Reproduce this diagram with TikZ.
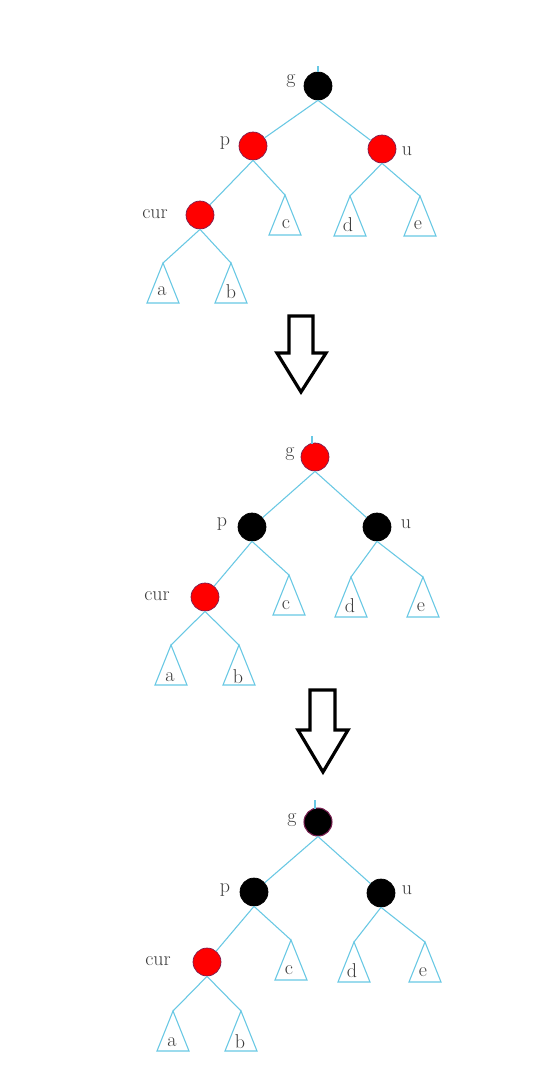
\documentclass[tikz,border=0pt]{standalone}
\definecolor{edgeblue}{RGB}{104,200,228}
\definecolor{nodered}{RGB}{255,0,0}
\definecolor{rimred}{RGB}{120,30,80}
\definecolor{labelgray}{RGB}{60,60,60}
\tikzset{
  rbnode/.style={circle, minimum size=21pt, inner sep=0pt, line width=0.5pt},
  rednode/.style={rbnode, fill=nodered, draw=rimred},
  blacknode/.style={rbnode, fill=black, draw=black},
  blackrednode/.style={rbnode, fill=black, draw=rimred, line width=0.8pt},
  edge/.style={draw=edgeblue, line width=0.8pt},
  lbl/.style={font=\fontsize{15}{16}\selectfont, text=labelgray, inner sep=0pt},
  bigarrow/.style={draw=black, line width=2.4pt, line join=miter, fill=white}
}
\newcommand{\subtri}[6]{%
  \coordinate (#1) at (#2,#3);
  \draw[edge] (#1) -- ++(-16,40) -- ++(32,0) -- cycle;
  \node[lbl] (#1l) at (#5,#6) {#4};
}
\begin{document}
\begin{tikzpicture}[x=0.75pt,y=-0.75pt]
\useasboundingbox (0,0) rectangle (542,1082);
\fill[white] (0,0) rectangle (542,1082);

% ---------- Tree 1 ----------
\node[blacknode] (g1) at (318,86) {};
\node[rednode] (p1) at (253,146) {};
\node[rednode] (u1) at (382,149) {};
\node[rednode] (cur1) at (200,215) {};
\node[lbl] (g1l) at (291,81) {g};
\node[lbl] (p1l) at (225,143) {p};
\node[lbl] (u1l) at (407,151) {u};
\node[lbl] (cur1l) at (155,214) {cur};
\subtri{c1}{285}{195}{c}{286}{224}
\subtri{d1}{350}{196}{d}{348}{225}
\subtri{e1}{420}{196}{e}{418}{225}
\subtri{a1}{163}{263}{a}{162}{291}
\subtri{b1}{231}{263}{b}{231}{292}
\coordinate (t1) at (318,66);
\draw[edge] (t1) -- (g1.north);
\draw[edge] (g1.south) -- (p1);
\draw[edge] (g1.south) -- (u1);
\draw[edge] (p1.south) -- (cur1);
\draw[edge] (p1.south) -- (c1);
\draw[edge] (u1.south) -- (d1);
\draw[edge] (u1.south) -- (e1);
\draw[edge] (cur1.south) -- (a1);
\draw[edge] (cur1.south) -- (b1);

% ---------- Arrow 1 ----------
\draw[bigarrow] (289,316) -- (313,316) -- (313,353) -- (326,353) -- (301,392) -- (277,353) -- (289,353) -- cycle;

% ---------- Tree 2 ----------
\node[rednode] (g2) at (315,457) {};
\node[blacknode] (p2) at (252,527) {};
\node[blacknode] (u2) at (377,527) {};
\node[rednode] (cur2) at (205,597) {};
\node[lbl] (g2l) at (290,454) {g};
\node[lbl] (p2l) at (222,524) {p};
\node[lbl] (u2l) at (406,524) {u};
\node[lbl] (cur2l) at (157,596) {cur};
\subtri{c2}{289}{575}{c}{286}{605}
\subtri{d2}{351}{577}{d}{350}{606}
\subtri{e2}{423}{577}{e}{421}{607}
\subtri{a2}{171}{645}{a}{170}{677}
\subtri{b2}{239}{645}{b}{238}{677}
\coordinate (t2) at (312,436);
\draw[edge] (t2) -- (312,444);
\draw[edge] (g2.south) -- (p2);
\draw[edge] (g2.south) -- (u2);
\draw[edge] (p2.south) -- (cur2);
\draw[edge] (p2.south) -- (c2);
\draw[edge] (u2.south) -- (d2);
\draw[edge] (u2.south) -- (e2);
\draw[edge] (cur2.south) -- (a2);
\draw[edge] (cur2.south) -- (b2);

% ---------- Arrow 2 ----------
\draw[bigarrow] (310,690) -- (335,690) -- (335,730) -- (348,730) -- (323,772) -- (298,730) -- (310,730) -- cycle;

% ---------- Tree 3 ----------
\node[blackrednode] (g3) at (318,822) {};
\node[blacknode] (p3) at (254,892) {};
\node[blacknode] (u3) at (381,893) {};
\node[rednode] (cur3) at (207,962) {};
\node[lbl] (g3l) at (292,820) {g};
\node[lbl] (p3l) at (225,890) {p};
\node[lbl] (u3l) at (407,890) {u};
\node[lbl] (cur3l) at (158,961) {cur};
\subtri{c3}{291}{940}{c}{289}{970}
\subtri{d3}{354}{942}{d}{352}{971}
\subtri{e3}{425}{942}{e}{423}{972}
\subtri{a3}{173}{1011}{a}{172}{1042}
\subtri{b3}{241}{1011}{b}{240}{1042}
\coordinate (t3) at (315,800);
\draw[edge] (t3) -- (315,809);
\draw[edge] (g3.south) -- (p3);
\draw[edge] (g3.south) -- (u3);
\draw[edge] (p3.south) -- (cur3);
\draw[edge] (p3.south) -- (c3);
\draw[edge] (u3.south) -- (d3);
\draw[edge] (u3.south) -- (e3);
\draw[edge] (cur3.south) -- (a3);
\draw[edge] (cur3.south) -- (b3);
\end{tikzpicture}
\end{document}
